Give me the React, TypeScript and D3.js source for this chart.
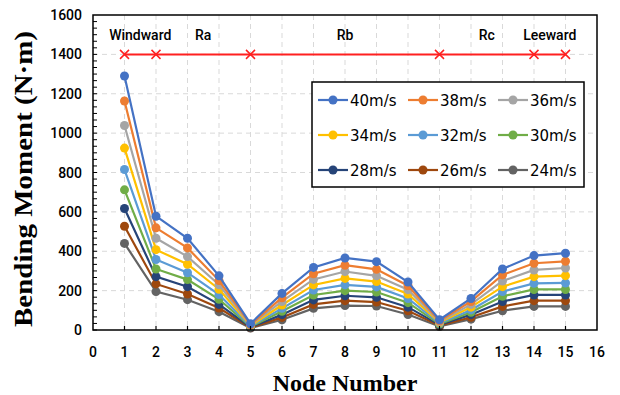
import React from "react";
import * as d3 from "d3";

const nodes = [1, 2, 3, 4, 5, 6, 7, 8, 9, 10, 11, 12, 13, 14, 15];
const seriesNames = ["40m/s", "38m/s", "36m/s", "34m/s", "32m/s", "30m/s", "28m/s", "26m/s", "24m/s"];
const s40 = [1290, 578, 466, 275, 32, 186, 318, 366, 347, 244, 52, 160, 310, 378, 390];
const s38 = [1163, 519, 417, 251, 28, 164, 286, 329, 308, 225, 47, 145, 280, 339, 349];
const s36 = [1039, 466, 373, 230, 25, 145, 257, 297, 275, 205, 42, 130, 249, 305, 315];
const s34 = [924, 408, 334, 207, 22, 127, 229, 262, 246, 183, 38, 116, 220, 271, 276];
const s32 = [815, 358, 291, 180, 19, 110, 203, 229, 219, 160, 34, 102, 195, 237, 239];
const s30 = [712, 310, 256, 156, 17, 95, 178, 200, 193, 139, 30, 90, 171, 206, 206];
const s28 = [617, 271, 220, 130, 14, 78, 153, 174, 166, 116, 26, 78, 145, 178, 178];
const s26 = [527, 234, 183, 112, 12, 64, 130, 149, 142, 98, 22, 65, 120, 149, 149];
const s24 = [440, 195, 154, 93, 10, 52, 110, 124, 122, 79, 18, 55, 98, 120, 120];
const seriesValues = [s40, s38, s36, s34, s32, s30, s28, s26, s24];
const colors = ["#4472C4", "#ED7D31", "#A5A5A5", "#FFC000", "#5B9BD5", "#70AD47", "#264478", "#9E480E", "#636363"];

const xTicks = d3.range(0, 17);
const yTicks = [0, 200, 400, 600, 800, 1000, 1200, 1400, 1600];
const supportNodes = [1, 2, 5, 11, 14, 15];
const supportLevel = 1400;
const regionLabels = ["Windward", "Ra", "Rb", "Rc", "Leeward"];
const regionPos = [1.5, 3.5, 8, 12.5, 14.5];

const W = 620, H = 395;
const L = 93, R = 597, T = 15, B = 330;

export default function App() {
  const x = d3.scaleLinear().domain([0, 16]).range([L, R]);
  const y = d3.scaleLinear().domain([0, 1600]).range([B, T]);
  const line = d3.line<number>().x((_, i) => x(nodes[i])).y((d) => y(d));
  const minor = d3.range(0, 1600, 1600 / 48);
  const tickFont = "Roboto, 'DejaVu Sans', sans-serif";
  const legFont = "'DejaVu Sans', sans-serif";
  const serif = "'Liberation Serif', 'Times New Roman', serif";
  const cross = (cx: number, cy: number, s: number) =>
    `M${cx - s},${cy - s}L${cx + s},${cy + s}M${cx - s},${cy + s}L${cx + s},${cy - s}`;

  const legX = [318, 408, 498];
  const legY = [100, 135, 170];

  return (
    <svg width={W} height={H} style={{ position: "absolute", left: 0, top: 0, background: "#fff" }}>
      {/* grid */}
      {nodes.map((n) => (
        <line key={"vg" + n} x1={x(n)} x2={x(n)} y1={T} y2={B} stroke="#D9D9D9" strokeWidth={1} strokeDasharray="5,4" />
      ))}
      {yTicks.slice(1, -1).map((t) => (
        <line key={"hg" + t} x1={L} x2={R} y1={y(t)} y2={y(t)} stroke="#D9D9D9" strokeWidth={1} strokeDasharray="5,4" />
      ))}
      {/* support line */}
      <line x1={x(supportNodes[0])} x2={x(supportNodes[supportNodes.length - 1])} y1={y(supportLevel)} y2={y(supportLevel)} stroke="#FF2020" strokeWidth={2} />
      {supportNodes.map((n) => (
        <path key={"sx" + n} d={cross(x(n), y(supportLevel), 4.5)} stroke="#FF2020" strokeWidth={1.5} fill="none" />
      ))}
      {regionLabels.map((t, i) => (
        <text key={t} x={x(regionPos[i])} y={40} textAnchor="middle" fontFamily={tickFont} fontSize={14} fontWeight={500} fill="#000">
          {t}
        </text>
      ))}
      {/* series */}
      {seriesValues.map((vals, si) => (
        <g key={"s" + si}>
          <path d={line(vals) || ""} fill="none" stroke={colors[si]} strokeWidth={2.2} />
          {vals.map((v, i) => (
            <circle key={i} cx={x(nodes[i])} cy={y(v)} r={4.5} fill={colors[si]} />
          ))}
        </g>
      )).reverse()}
      {/* frame */}
      <rect x={L} y={T} width={R - L} height={B - T} fill="none" stroke="#000" strokeWidth={1.5} />
      {/* ticks */}
      {minor.map((t, i) => (
        <line key={"ym" + i} x1={L} x2={L + 4} y1={y(t)} y2={y(t)} stroke="#000" strokeWidth={1} />
      ))}
      {xTicks.slice(1, -1).map((t) => (
        <line key={"xt" + t} x1={x(t)} x2={x(t)} y1={B} y2={B - 4} stroke="#000" strokeWidth={1.2} />
      ))}
      {yTicks.map((t) => (
        <text key={"yl" + t} x={L - 11} y={y(t) + 5} textAnchor="end" fontFamily={tickFont} fontSize={14} fontWeight={500} fill="#000">
          {t}
        </text>
      ))}
      {xTicks.map((t) => (
        <text key={"xl" + t} x={x(t)} y={357} textAnchor="middle" fontFamily={tickFont} fontSize={14} fontWeight={500} fill="#000">
          {t}
        </text>
      ))}
      {/* axis titles */}
      <text x={345} y={391} textAnchor="middle" fontFamily={serif} fontWeight="bold" fontSize={24} fill="#000">
        Node Number
      </text>
      <text
        transform={`translate(32,${179}) rotate(-90)`}
        textAnchor="middle"
        fontFamily={serif}
        fontWeight="bold"
        fontSize={25}
        textLength={296}
        lengthAdjust="spacingAndGlyphs"
        fill="#000"
      >
        Bending Moment (N·m)
      </text>
      {/* legend */}
      <rect x={312} y={82} width={272} height={105} fill="#fff" stroke="#000" strokeWidth={1.5} />
      {seriesNames.map((name, i) => {
        const cx = legX[i % 3];
        const cy = legY[Math.floor(i / 3)];
        return (
          <g key={name}>
            <line x1={cx} x2={cx + 30} y1={cy} y2={cy} stroke={colors[i]} strokeWidth={2.2} />
            <circle cx={cx + 15} cy={cy} r={4.5} fill={colors[i]} />
            <text x={cx + 32} y={cy + 5.5} fontFamily={legFont} fontSize={15} fill="#000">
              {name}
            </text>
          </g>
        );
      })}
    </svg>
  );
}
